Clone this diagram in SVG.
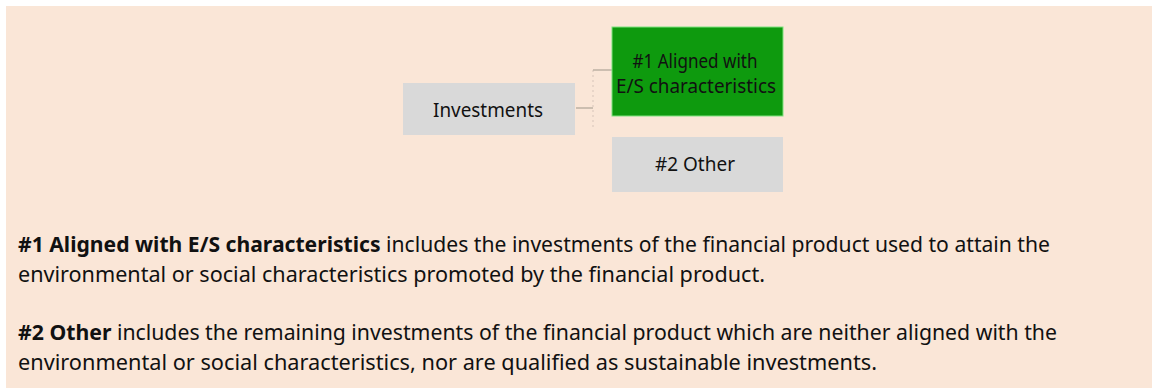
<svg xmlns="http://www.w3.org/2000/svg" width="1152" height="390" viewBox="0 0 1152 390">
<style>
.t{font-family:"Noto Sans","Open Sans",sans-serif;fill:#111;}
.n{font-size:19px;text-anchor:middle;}
.p{font-size:21px;}
.b{font-weight:bold;}
.c{stroke:#BDB0A3;stroke-width:1.5;fill:none;}
</style>
<rect x="0" y="0" width="1152" height="390" fill="#ffffff"/>
<rect x="6" y="6" width="1146" height="382" fill="#FAE6D7"/>
<g id="connectors">
<path class="c" d="M576,108 H593"/>
<path class="c" d="M593,70 V130" stroke-dasharray="2,3" opacity="0.4"/>
<path class="c" d="M593,70 H612"/>
</g>
<g id="investments">
<rect x="403" y="83" width="172" height="52" fill="#D9D9D9"/>
<text class="t n" x="488" y="117" textLength="110" lengthAdjust="spacingAndGlyphs">Investments</text>
</g>
<g id="aligned">
<rect x="612" y="27" width="171" height="89" fill="#0E9A0E" stroke="#7FE27F" stroke-width="1"/>
<text class="t n" x="695" y="68" textLength="125" lengthAdjust="spacingAndGlyphs">#1 Aligned with</text>
<text class="t n" x="696" y="93" textLength="160" lengthAdjust="spacingAndGlyphs">E/S characteristics</text>
</g>
<g id="other">
<rect x="612" y="137" width="171" height="55" fill="#D9D9D9"/>
<text class="t n" x="695" y="171" textLength="80" lengthAdjust="spacingAndGlyphs">#2 Other</text>
</g>
<text class="t p" x="18" y="252" textLength="1032" lengthAdjust="spacingAndGlyphs"><tspan class="b">#1 Aligned with E/S characteristics</tspan> includes the investments of the financial product used to attain the</text>
<text class="t p" x="18" y="282" textLength="747" lengthAdjust="spacingAndGlyphs">environmental or social characteristics promoted by the financial product.</text>
<text class="t p" x="18" y="340" textLength="1039" lengthAdjust="spacingAndGlyphs"><tspan class="b">#2 Other</tspan> includes the remaining investments of the financial product which are neither aligned with the</text>
<text class="t p" x="18" y="370" textLength="859" lengthAdjust="spacingAndGlyphs">environmental or social characteristics, nor are qualified as sustainable investments.</text>
</svg>
